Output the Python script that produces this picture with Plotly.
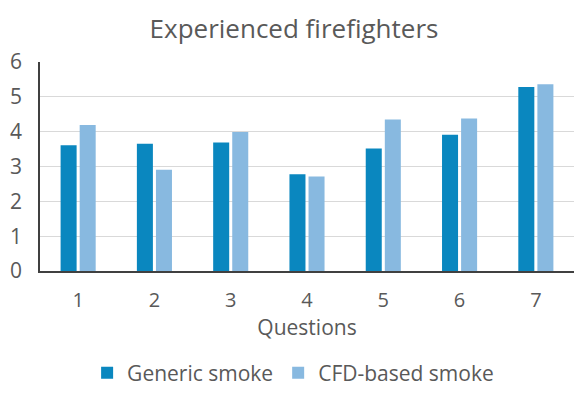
import plotly.graph_objects as go

questions = ["1", "2", "3", "4", "5", "6", "7"]
generic_smoke = [3.61, 3.65, 3.69, 2.78, 3.52, 3.91, 5.28]
cfd_smoke = [4.19, 2.91, 3.99, 2.71, 4.35, 4.38, 5.36]
y_ticks = [0, 1, 2, 3, 4, 5, 6]

FONT = "Open Sans"
GRAY = "#595959"
OFF = 8  # page body margin offset

fig = go.Figure()
fig.add_trace(go.Bar(x=questions, y=generic_smoke, name="Generic smoke",
                     marker=dict(color="#0a87bf", line=dict(width=0))))
fig.add_trace(go.Bar(x=questions, y=cfd_smoke, name="CFD-based smoke",
                     marker=dict(color="#88b9e0", line=dict(width=0))))

fig.update_layout(
    width=588, height=398,
    margin=dict(l=40 - OFF, r=14 + OFF, t=62 - OFF, b=127 + OFF, autoexpand=False),
    paper_bgcolor="white", plot_bgcolor="white",
    font=dict(family=FONT, color=GRAY, size=20),
    title=dict(text="Experienced firefighters", x=(294 - OFF) / 588, xanchor="center",
               y=1 - 21 / 398, yanchor="middle", yref="container",
               font=dict(family=FONT, size=26, color=GRAY)),
    barmode="group", bargap=0.5, bargroupgap=0.16,
    showlegend=True,
    legend=dict(orientation="h", x=0.474, xanchor="center", y=-0.488, yanchor="middle",
                font=dict(family=FONT, size=21, color=GRAY),
                itemwidth=30, traceorder="normal"),
    xaxis=dict(title=dict(text="Questions", font=dict(size=21, color=GRAY), standoff=6),
               showline=True, linecolor="#404040", linewidth=1.5, automargin=False,
               ticks="", tickfont=dict(size=20, color=GRAY), ticklabelstandoff=10),
    yaxis=dict(range=[0, 6], tickvals=y_ticks, showline=True, linecolor="#404040",
               linewidth=1.5, showgrid=True, gridcolor="#d9d9d9", gridwidth=1,
               automargin=False,
               ticks="", tickfont=dict(size=21, color=GRAY), ticklabelstandoff=12,
               zeroline=False),
)

fig.write_html("out.html")
